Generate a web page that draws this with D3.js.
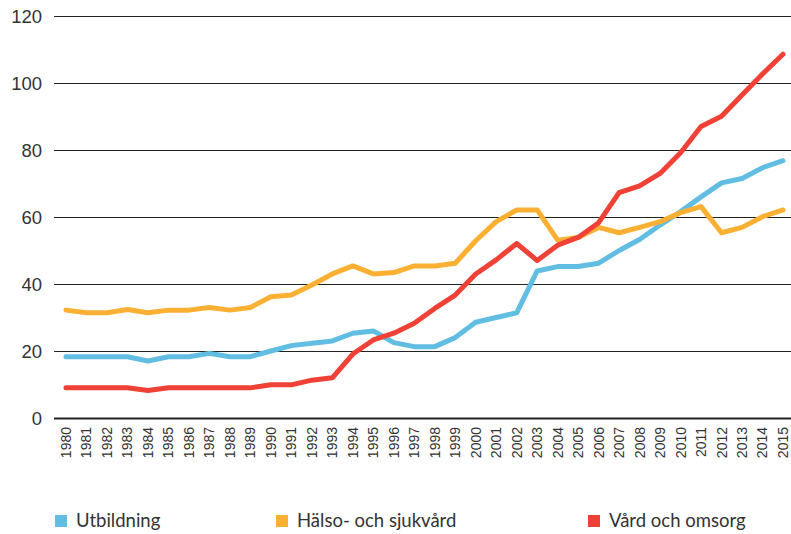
<!DOCTYPE html>
<html>
<head>
<meta charset="utf-8">
<script src="https://cdn.jsdelivr.net/npm/d3@7"></script>
<style>
body{margin:0;background:#fff;}
svg{font-family:'Lato','Open Sans',sans-serif;}
</style>
</head>
<body>
<div class="chart"></div>
<script>
//Data
const years = d3.range(1980, 2016);
const yTicks = [0, 20, 40, 60, 80, 100, 120];
const utbildning = [18.3,18.3,18.3,18.3,17,18.3,18.3,19.3,18.3,18.3,20,21.6,22.3,23,25.3,26,22.5,21.3,21.3,24,
    28.6,30,31.4,43.9,45.2,45.2,46.2,50,53.3,57.6,61.6,66,70.2,71.5,74.7,76.8];
const halso = [32.2,31.4,31.4,32.4,31.4,32.2,32.2,33,32.2,33,36.2,36.7,39.7,43,45.4,43,43.4,45.4,45.4,46.2,
    52.9,58.6,62.1,62.1,53.1,53.9,56.9,55.3,56.9,58.6,61.3,63.1,55.3,56.9,60.1,62.1];
const vard = [9,9,9,9,8.2,9,9,9,9,9,9.9,9.9,11.3,12,19.1,23.3,25.3,28.3,32.7,36.7,
    43,47.2,52.1,47,51.6,53.9,58.3,67.3,69.3,73,79.2,87,90.1,96.4,102.7,108.6];
const seriesNames = ['Utbildning', 'Hälso- och sjukvård', 'Vård och omsorg'];
const seriesColors = ['#62bde3', '#fbb034', '#ef4136'];

const svg_width = 791, svg_height = 534;
const svg = d3.select('.chart').append('svg')
    .attr('width', svg_width).attr('height', svg_height);

//scale
const xScale = d3.scaleLinear().domain([1980, 2015]).range([66, 783]);
const yScale = d3.scaleLinear().domain([0, 120]).range([418, 16]);

//grid + y labels
const yAxis = d3.axisLeft(yScale).tickValues(yTicks)
    .tickSize(-(791 - 54)).tickPadding(12);
const yAxisDraw = svg.append('g').attr('transform', 'translate(54,0)').call(yAxis);
yAxisDraw.select('.domain').remove();
yAxisDraw.selectAll('line').attr('stroke', '#222').attr('stroke-width', d => d === 0 ? 2 : 1);
yAxisDraw.selectAll('text').attr('fill', '#333').style('font-size', '18.5px').attr('dy', '0.35em');

//x labels
const xAxis = d3.axisBottom(xScale).tickValues(years).tickFormat(d3.format('d')).tickSize(0);
const xAxisDraw = svg.append('g').attr('transform', 'translate(0,418)').call(xAxis);
xAxisDraw.select('.domain').remove();
xAxisDraw.selectAll('text')
    .attr('transform', 'rotate(-90)')
    .attr('x', -9).attr('y', 0).attr('dy', '0.32em')
    .attr('text-anchor', 'end')
    .attr('fill', '#333').style('font-size', '14px');

//lines
const line = d3.line().x((d, i) => xScale(years[i])).y(d => yScale(d));
[utbildning, halso, vard].forEach((s, i) => {
    svg.append('path').datum(s)
        .attr('fill', 'none').attr('stroke', seriesColors[i])
        .attr('stroke-width', 5).attr('stroke-linejoin', 'round')
        .attr('stroke-linecap', 'round')
        .attr('d', line);
});

//legend
const legendX = [55, 276, 588];
const legend = svg.selectAll('.legend').data(seriesNames).enter()
    .append('g').attr('class', 'legend')
    .attr('transform', (d, i) => `translate(${legendX[i]},515)`);
legend.append('rect').attr('width', 12).attr('height', 12).attr('fill', (d, i) => seriesColors[i]);
legend.append('text').attr('x', 21).attr('y', 6).attr('dy', '0.35em')
    .attr('fill', '#333').style('font-size', '18.5px').text(d => d);
</script>
</body>
</html>
